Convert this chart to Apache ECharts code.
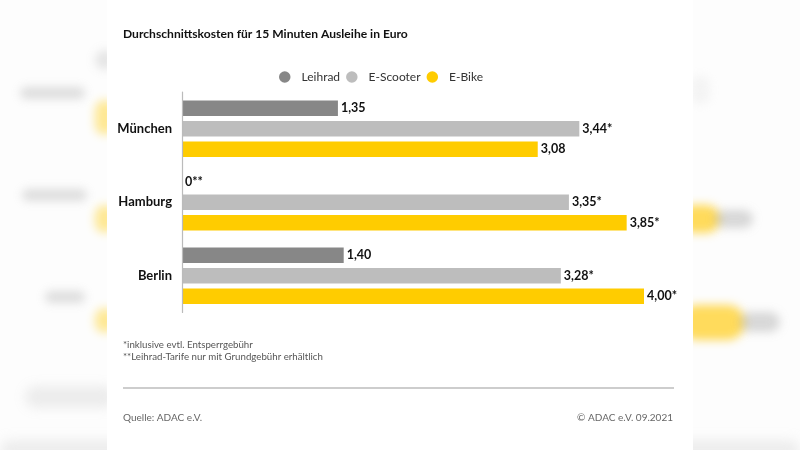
<!DOCTYPE html>
<html>
<head>
<meta charset="utf-8">
<script src="https://cdn.jsdelivr.net/npm/echarts@6/dist/echarts.min.js"></script>
<style>html,body{margin:0;padding:0;background:#fff;}#c{width:800px;height:450px;}</style>
</head>
<body>
<div id="c"></div>
<script>
const cities = ['München', 'Hamburg', 'Berlin'];
const seriesNames = ['Leihrad', 'E-Scooter', 'E-Bike'];
const leihrad = [1.35, 0, 1.40];
const eScooter = [3.44, 3.35, 3.28];
const eBike = [3.08, 3.85, 4.00];
const leihradNotes = ['', '**', ''];
const eScooterNotes = ['*', '*', '*'];
const eBikeNotes = ['', '*', '*'];
const colors = ['#878787', '#bdbdbd', '#ffcc00'];
const titleText = 'Durchschnittskosten für 15 Minuten Ausleihe in Euro';
const footnotes = ['*inklusive evtl. Entsperrgebühr', '**Leihrad-Tarife nur mit Grundgebühr erhältlich'];
const sourceText = 'Quelle: ADAC e.V.';
const copyrightText = '© ADAC e.V. 09.2021';

const FONT = 'Lato, "Open Sans", sans-serif';

function fmt(v, note) {
  const s = v === 0 ? '0' : v.toFixed(2).replace('.', ',');
  return s + note;
}

function blob(x, y, w, h, color, blur) {
  return {
    type: 'rect', z: 0, silent: true,
    shape: { x: x - 3000, y: y, width: w, height: h, r: h / 2 },
    style: { fill: color, shadowColor: color, shadowBlur: blur, shadowOffsetX: 3000, shadowOffsetY: 0 }
  };
}

const chart = echarts.init(document.getElementById('c'), null, { renderer: 'canvas' });

function mkSeries(name, data, notes, color) {
  return {
    name: name, type: 'bar', data: data,
    barWidth: 15.5, barGap: '32%',
    itemStyle: { color: color },
    label: {
      show: true, position: 'right', distance: 3,
      fontFamily: FONT, fontWeight: 'bold', fontSize: 12.5, color: '#111',
      formatter: p => fmt(p.value, notes[p.dataIndex])
    },
    z: 6
  };
}

chart.setOption({
  backgroundColor: '#fdfdfd',
  animation: false,
  textStyle: { fontFamily: FONT },
  legend: {
    z: 6,
    data: seriesNames.map((n, i) => ({ name: n, itemStyle: { color: colors[i] } })),
    left: 274, top: 66, icon: 'circle', itemWidth: 11.5, itemHeight: 11.5, itemGap: 6,
    textStyle: { fontFamily: FONT, fontSize: 12, color: '#333', padding: [0, 0, 0, 6] }
  },
  grid: { left: 182, top: 92, height: 220.5, right: 40.5, z: 5 },
  xAxis: { type: 'value', min: 0, max: 5, show: false, splitLine: { show: false }, z: 5 },
  yAxis: {
    type: 'category', data: cities, inverse: true, z: 7,
    axisLine: { show: true, onZero: false, lineStyle: { color: '#bbbbbb', width: 1.2 } },
    axisTick: { show: false },
    axisLabel: { fontFamily: FONT, fontWeight: 'bold', fontSize: 13, color: '#111', margin: 10 }
  },
  series: [
    mkSeries(seriesNames[0], leihrad, leihradNotes, colors[0]),
    mkSeries(seriesNames[1], eScooter, eScooterNotes, colors[1]),
    mkSeries(seriesNames[2], eBike, eBikeNotes, colors[2])
  ],
  graphic: [
    blob(20, 87, 65, 12, 'rgba(150,150,150,0.55)', 10),
    blob(95, 100, 20, 35, 'rgba(255,210,40,0.7)', 10),
    blob(95, 50, 20, 20, 'rgba(160,160,160,0.5)', 10),
    blob(22, 189, 65, 12, 'rgba(150,150,150,0.55)', 10),
    blob(95, 205, 20, 28, 'rgba(255,210,40,0.7)', 10),
    blob(45, 291, 40, 12, 'rgba(150,150,150,0.55)', 10),
    blob(95, 308, 20, 25, 'rgba(255,210,40,0.7)', 10),
    blob(25, 386, 90, 22, 'rgba(170,170,170,0.45)', 12),
    blob(680, 205, 40, 28, 'rgba(255,205,30,0.85)', 10),
    blob(715, 210, 38, 18, 'rgba(150,150,150,0.6)', 10),
    blob(680, 305, 65, 35, 'rgba(255,205,30,0.85)', 10),
    blob(740, 312, 40, 20, 'rgba(150,150,150,0.6)', 10),
    blob(690, 75, 20, 30, 'rgba(200,200,200,0.4)', 10),
    blob(0, 440, 800, 20, 'rgba(210,210,210,0.6)', 12),
    { type: 'rect', z: 1, silent: true, shape: { x: 107, y: 0, width: 586, height: 450 }, style: { fill: '#ffffff' } },
    { type: 'text', z: 10, left: 123, top: 28, style: { text: titleText, font: 'bold 12.1px ' + FONT, fill: '#111' } },
    { type: 'text', z: 10, left: 123, top: 339, style: { text: footnotes.join('\n'), font: '9.7px ' + FONT, fill: '#555', lineHeight: 12 } },
    { type: 'line', z: 10, shape: { x1: 123, y1: 388, x2: 674, y2: 388 }, style: { stroke: '#bdbdbd', lineWidth: 1.5 } },
    { type: 'text', z: 10, left: 123, top: 413, style: { text: sourceText, font: '10px ' + FONT, fill: '#666' } },
    { type: 'text', z: 10, right: 127, top: 413, style: { text: copyrightText, font: '10px ' + FONT, fill: '#666', textAlign: 'right' } }
  ]
});
</script>
</body>
</html>
